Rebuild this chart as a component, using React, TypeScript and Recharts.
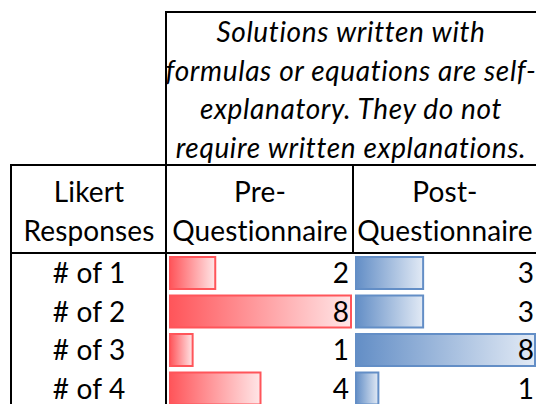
import React from 'react';
import { BarChart, Bar, XAxis, YAxis, LabelList } from 'recharts';

const categories = ['# of 1', '# of 2', '# of 3', '# of 4'];
const preValues = [2, 8, 1, 4];
const postValues = [3, 3, 8, 1];
const titleLines = [
  'Solutions written with',
  'formulas or equations are self-',
  'explanatory. They do not',
  'require written explanations.',
];
const firstColHeader = ['Likert', 'Responses'];
const preHeader = ['Pre-', 'Questionnaire'];
const postHeader = ['Post-', 'Questionnaire'];

const data = categories.map((c, i) => ({ label: c, pre: preValues[i], post: postValues[i] }));

const FONT = 'Lato, "Open Sans", sans-serif';
const FS = 28;
const TXT_STYLE: React.CSSProperties = { fontVariantLigatures: 'none', letterSpacing: '0.15px' };

const ROW_TOP = 254;
const ROW_H = 38.5;

function makeLabel(rightX: number) {
  return (props: any) => {
    const { y, height, value } = props;
    return (
      <text x={rightX} y={y + height / 2} dy="0.36em" textAnchor="end" fontFamily={FONT} fontSize={FS} fill="#000">
        {value}
      </text>
    );
  };
}

const CatTick = (props: any) => {
  const { y, payload } = props;
  return (
    <text x={89} y={y} dy="0.36em" textAnchor="middle" fontFamily={FONT} fontSize={FS} fill="#000" style={TXT_STYLE}>
      {payload.value}
    </text>
  );
};

export default function App() {
  const h = ROW_H * categories.length;
  return (
    <div style={{ position: 'absolute', left: 0, top: 0, width: 536, height: 404, overflow: 'hidden', background: '#fff' }}>
      <div style={{ position: 'absolute', left: 0, top: ROW_TOP }}>
        <BarChart width={352} height={h} data={data} layout="vertical" margin={{ top: 0, right: 1, left: 0, bottom: 0 }}>
          <defs>
            <linearGradient id="gradRed" x1="0" y1="0" x2="1" y2="0">
              <stop offset="0%" stopColor="#FF555A" />
              <stop offset="100%" stopColor="#FFE6E7" />
            </linearGradient>
          </defs>
          <XAxis type="number" domain={[0, 8]} hide />
          <YAxis type="category" dataKey="label" width={170} axisLine={false} tickLine={false} tick={<CatTick />} interval={0} />
          <Bar dataKey="pre" fill="url(#gradRed)" stroke="#FF555A" strokeWidth={2} barSize={32} isAnimationActive={false}>
            <LabelList dataKey="pre" content={makeLabel(349)} />
          </Bar>
        </BarChart>
      </div>
      <div style={{ position: 'absolute', left: 355, top: ROW_TOP }}>
        <BarChart width={181} height={h} data={data} layout="vertical" margin={{ top: 0, right: 1, left: 1, bottom: 0 }}>
          <defs>
            <linearGradient id="gradBlue" x1="0" y1="0" x2="1" y2="0">
              <stop offset="0%" stopColor="#638EC6" />
              <stop offset="100%" stopColor="#E2EAF5" />
            </linearGradient>
          </defs>
          <XAxis type="number" domain={[0, 8]} hide />
          <YAxis type="category" dataKey="label" hide />
          <Bar dataKey="post" fill="url(#gradBlue)" stroke="#638EC6" strokeWidth={2} barSize={32} isAnimationActive={false}>
            <LabelList dataKey="post" content={makeLabel(179)} />
          </Bar>
        </BarChart>
      </div>
      <svg width={536} height={404} style={{ position: 'absolute', left: 0, top: 0, pointerEvents: 'none' }}>
        <g stroke="#000" strokeWidth={2}>
          <line x1={166} y1={12} x2={536} y2={12} />
          <line x1={166} y1={11} x2={166} y2={404} />
          <line x1={11} y1={165} x2={536} y2={165} />
          <line x1={11} y1={164} x2={11} y2={404} />
          <line x1={11} y1={253} x2={536} y2={253} />
          <line x1={353} y1={165} x2={353} y2={253} />
        </g>
        <g fontFamily={FONT} fontSize={FS} fill="#000" textAnchor="middle">
          {titleLines.map((t, i) => (
            <text key={t} x={351} y={32 + i * 38.7} dy="0.36em" fontStyle="italic" style={{ fontVariantLigatures: 'none', letterSpacing: '0.65px' }}>{t}</text>
          ))}
          {firstColHeader.map((t, i) => (
            <text key={t} x={89} y={192 + i * 39} dy="0.36em" style={TXT_STYLE}>{t}</text>
          ))}
          {preHeader.map((t, i) => (
            <text key={t} x={260} y={192 + i * 39} dy="0.36em" style={TXT_STYLE}>{t}</text>
          ))}
          {postHeader.map((t, i) => (
            <text key={t} x={445} y={192 + i * 39} dy="0.36em" style={TXT_STYLE}>{t}</text>
          ))}
        </g>
      </svg>
    </div>
  );
}
